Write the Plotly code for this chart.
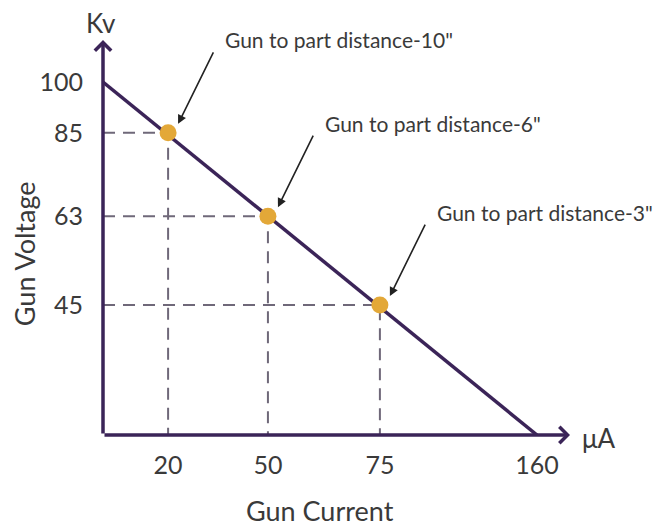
import numpy as np
import plotly.graph_objects as go

# DATA
current = [20, 50, 75]              # uA
voltage = [85, 63, 45]              # kV
labels = ['Gun to part distance-10"', 'Gun to part distance-6"', 'Gun to part distance-3"']
line_current = [0, 160]             # load line end points
line_voltage = [100, 0]
x_ticks = [20, 50, 75, 160]
y_ticks = [45, 63, 85, 100]

# schematic (not to scale) axes of the original diagram
x_knots = [0, 20, 50, 75, 160]
x_knot_pos = [0, 0.150, 0.380, 0.638, 1.0]
y_knots = [0, 45, 63, 85, 100]
y_knot_pos = [0, 0.368, 0.620, 0.856, 1.0]


def sx(v):
    return np.interp(v, x_knots, x_knot_pos)


def sy(v):
    return np.interp(v, y_knots, y_knot_pos)


PURPLE = '#3b2458'
DASH = '#6f6879'
GOLD = '#e3a838'
TEXT = '#3a3a3a'
FONT = 'Lato'

px, py = sx(current), sy(voltage)
x_end, y_end = 1.076, 1.119

fig = go.Figure()

# dashed guides to both axes
for xi, yi in zip(px, py):
    fig.add_trace(go.Scatter(
        x=[0, xi, xi], y=[yi, yi, 0], mode='lines',
        line=dict(color=DASH, width=2, dash='12px,8px'),
        hoverinfo='skip', showlegend=False, cliponaxis=False,
    ))

fig.add_trace(go.Scatter(
    x=sx(line_current), y=sy(line_voltage), mode='lines',
    line=dict(color=PURPLE, width=3.5),
    showlegend=False, cliponaxis=False,
))

fig.add_trace(go.Scatter(
    x=px, y=py, mode='markers',
    marker=dict(color=GOLD, size=17),
    text=labels, showlegend=False, cliponaxis=False,
))

# axes with chevron heads
fig.add_annotation(x=x_end, y=0, ax=0, ay=0, axref='x', ayref='y', text='',
                   showarrow=True, arrowhead=4, arrowsize=0.9, arrowwidth=3.5,
                   arrowcolor=PURPLE)
fig.add_annotation(x=0, y=y_end, ax=0, ay=0, axref='x', ayref='y', text='',
                   showarrow=True, arrowhead=4, arrowsize=0.9, arrowwidth=3.5,
                   arrowcolor=PURPLE)

# callouts
for xi, yi, lab in zip(px, py, labels):
    fig.add_annotation(x=xi, y=yi, text='', showarrow=True, ax=36, ay=-73,
                       xshift=10, yshift=9, arrowhead=2, arrowsize=1.1,
                       arrowwidth=1.6, arrowcolor='#222222')
    fig.add_annotation(x=xi, y=yi, text=lab, showarrow=False, xanchor='left',
                       yanchor='middle', xshift=55, yshift=93,
                       font=dict(family=FONT, size=21, color=TEXT))

title_font = dict(family=FONT, size=27, color=TEXT)
unit_font = dict(family=FONT, size=26, color=TEXT)
fig.add_annotation(xref='paper', yref='paper', x=0.465, y=-0.192, text='Gun Current',
                   showarrow=False, xanchor='center', yanchor='middle', font=title_font)
fig.add_annotation(xref='paper', yref='paper', x=-0.169, y=0.458, text='Gun Voltage',
                   showarrow=False, xanchor='center', yanchor='middle', textangle=-90,
                   font=title_font)
fig.add_annotation(xref='paper', yref='paper', x=-0.004, y=1.043, text='Kv',
                   showarrow=False, xanchor='center', yanchor='middle', font=unit_font)
fig.add_annotation(xref='paper', yref='paper', x=1.062, y=-0.008, text='μA',
                   showarrow=False, xanchor='center', yanchor='middle', font=unit_font)

fig.update_layout(
    width=668, height=527,
    margin=dict(l=95, r=106, t=32, b=100),
    paper_bgcolor='white', plot_bgcolor='white',
    xaxis=dict(range=[0, x_end], tickvals=sx(x_ticks), ticktext=[str(t) for t in x_ticks],
               showgrid=False, zeroline=False, showline=False, ticks='',
               ticklabelstandoff=13, tickfont=dict(family=FONT, size=25, color=TEXT)),
    yaxis=dict(range=[0, y_end], tickvals=sy(y_ticks), ticktext=[str(t) for t in y_ticks],
               showgrid=False, zeroline=False, showline=False, ticks='',
               ticklabelstandoff=19, tickfont=dict(family=FONT, size=25, color=TEXT)),
)

fig.write_html("out.html")
